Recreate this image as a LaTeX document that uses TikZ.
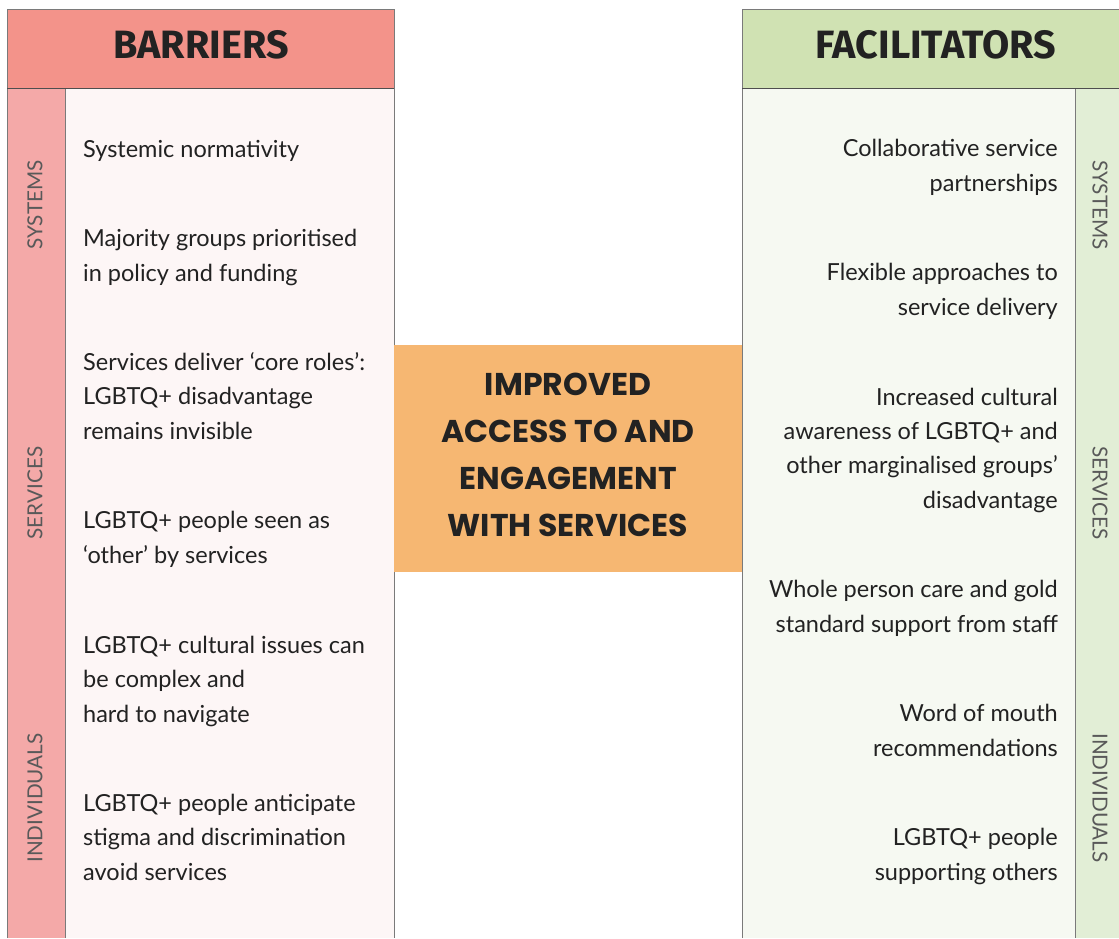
\documentclass[tikz,border=0pt]{standalone}
\usepackage{fontspec}
\setmainfont{Lato}
\newfontfamily\headfont{Fira Sans}
\newfontfamily\hubfont{Poppins}
\definecolor{barhead}{HTML}{F3938A}
\definecolor{barside}{HTML}{F4A9A8}
\definecolor{barbody}{HTML}{FDF6F6}
\definecolor{fachead}{HTML}{D0E2B3}
\definecolor{facside}{HTML}{E2EED6}
\definecolor{facbody}{HTML}{F6F9F2}
\definecolor{hubfill}{HTML}{F6B772}
\definecolor{ink}{HTML}{222222}
\definecolor{edge}{HTML}{7A7A7A}
\tikzset{
  panel/.style={draw=edge, line width=1pt},
  sep/.style={draw=ink!80, line width=1pt},
  headtext/.style={font=\headfont\bfseries\fontsize{39.5}{42}\selectfont, text=ink, inner sep=0pt},
  % multi-line items are placed by the baseline of their last line
  itemL/.style={anchor=base west, align=left, inner sep=0pt, text=ink, font=\fontsize{23.5}{34.3}\selectfont},
  itemR/.style={anchor=base east, align=right, inner sep=0pt, text=ink, font=\fontsize{23.5}{34.3}\selectfont},
  sidetext/.style={inner sep=0pt, text=ink!75, font=\fontsize{20.7}{24}\selectfont},
  hubtext/.style={align=center, inner sep=0pt, text=ink, font=\hubfont\bfseries\fontsize{31.5}{47}\selectfont}
}
\begin{document}
\begin{tikzpicture}[x=1pt, y=-1pt]
\useasboundingbox (0,0) rectangle (1119,938);
\fill[white] (0,0) rectangle (1119,938);

% barriers panel
\fill[barbody] (65,88) rectangle (394,938);
\fill[barside] (7,88) rectangle (65,938);
\fill[barhead] (7,9) rectangle (394,88);
\draw[panel] (7,938) -- (7,9) -- (394,9) -- (394,938);
\draw[panel] (65,88) -- (65,938);
\draw[sep] (7,88) -- (394,88);
\node[headtext] (barT) at (201,45) {BARRIERS};

% facilitators panel
\fill[facbody] (742,88) rectangle (1075,938);
\fill[facside] (1075,88) rectangle (1119,938);
\fill[fachead] (742,9) rectangle (1119,88);
\draw[panel] (742,938) -- (742,9) -- (1119,9);
\draw[panel] (1075,88) -- (1075,938);
\draw[sep] (742,88) -- (1119,88);
\node[headtext] (facT) at (936,45) {FACILITATORS};

% central outcome
\fill[hubfill] (394,345) rectangle (742,572);
\node[hubtext] (hub) at (568,455) {IMPROVED\\ACCESS TO AND\\ENGAGEMENT\\WITH SERVICES};

% level labels
\node[sidetext, rotate=90] (lS) at (35,205) {SYSTEMS};
\node[sidetext, rotate=90] (lV) at (35,493) {SERVICES};
\node[sidetext, rotate=90] (lI) at (35,798) {INDIVIDUALS};
\node[sidetext, rotate=-90] (rS) at (1100,205) {SYSTEMS};
\node[sidetext, rotate=-90] (rV) at (1100,493) {SERVICES};
\node[sidetext, rotate=-90] (rI) at (1100,798) {INDIVIDUALS};

% barriers
\node[itemL] (b1) at (83,157) {Systemic normativity};
\node[itemL] (b2) at (83,281) {Majority groups prioritised\\in policy and funding};
\node[itemL] (b3) at (83,439) {Services deliver ‘core roles’:\\LGBTQ+ disadvantage\\remains invisible};
\node[itemL] (b4) at (83,563) {LGBTQ+ people seen as\\‘other’ by services};
\node[itemL] (b5) at (83,722) {LGBTQ+ cultural issues can\\be complex and\\hard to navigate};
\node[itemL] (b6) at (83,880) {LGBTQ+ people anticipate\\stigma and discrimination\\avoid services};

% facilitators
\node[itemR] (f1) at (1058,191) {Collaborative service\\partnerships};
\node[itemR] (f2) at (1058,315) {Flexible approaches to\\service delivery};
\node[itemR] (f3) at (1058,508) {Increased cultural\\awareness of LGBTQ+ and\\other marginalised groups’\\disadvantage};
\node[itemR] (f4) at (1058,632) {Whole person care and gold\\standard support from staff};
\node[itemR] (f5) at (1058,756) {Word of mouth\\recommendations};
\node[itemR] (f6) at (1058,880) {LGBTQ+ people\\supporting others};
\end{tikzpicture}
\end{document}
